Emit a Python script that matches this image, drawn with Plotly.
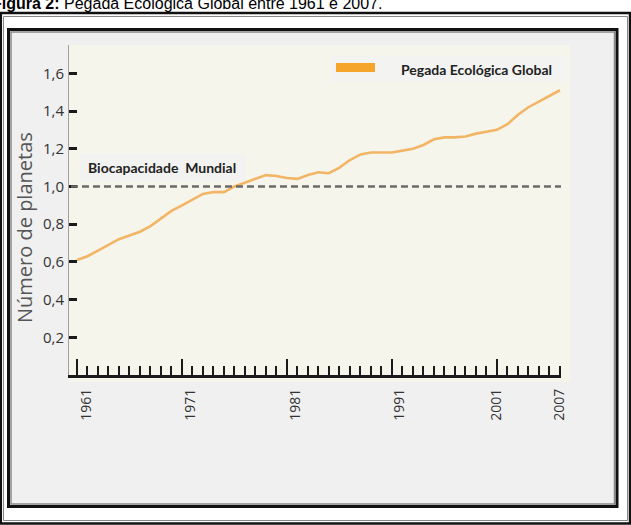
import plotly.graph_objects as go

# ---------------- data ----------------
years = list(range(1961, 2008))
footprint = [0.61, 0.63, 0.66, 0.69, 0.72, 0.74, 0.76, 0.79, 0.83, 0.87,
             0.90, 0.93, 0.96, 0.97, 0.97, 1.00, 1.02, 1.04, 1.06, 1.055,
             1.045, 1.04, 1.06, 1.075, 1.07, 1.10, 1.14, 1.17, 1.18, 1.18,
             1.18, 1.19, 1.20, 1.22, 1.25, 1.26, 1.26, 1.265, 1.28, 1.29,
             1.30, 1.33, 1.38, 1.42, 1.45, 1.48, 1.51]
biocapacity = 1.0
major_years = [1961, 1971, 1981, 1991, 2001]
label_years = [1961, 1971, 1981, 1991, 2001, 2007]
y_ticks = [0.2, 0.4, 0.6, 0.8, 1.0, 1.2, 1.4, 1.6]
y_ticktext = ["0,2", "0,4", "0,6", "0,8", "1,0", "1,2", "1,4", "1,6"]

# ---------------- layout geometry (pixels) ----------------
W, H = 631, 525
L, R, T, B = 69, 561, 45, 375
label_shift = [0.9, 0.8, 0.85, 0.7, 0.0, 0.0]  # label offsets (years) as in the original


def pxx(x):
    return (x - L) / (R - L)


def pxy(y):
    return (B - y) / (B - T)


def rect(x0, y0, x1, y1, **kw):
    d = dict(type="rect", xref="paper", yref="paper",
             x0=pxx(x0), x1=pxx(x1), y0=pxy(y1), y1=pxy(y0), layer="below")
    d.update(kw)
    return d


fig = go.Figure()
fig.add_trace(go.Scatter(x=years, y=footprint, mode="lines",
                         line=dict(color="#F2B565", width=2.6),
                         hoverinfo="skip", showlegend=False))
# invisible trace to host label axis
fig.add_trace(go.Scatter(x=[years[0]], y=[footprint[0]], xaxis="x2",
                         mode="markers", marker=dict(opacity=0),
                         hoverinfo="skip", showlegend=False))

shapes = [
    # outer double frame
    dict(type="rect", xref="paper", yref="paper", x0=pxx(0.8), x1=pxx(630), y0=pxy(523.5), y1=pxy(13),
         line=dict(color="#111", width=2.5), fillcolor="white", layer="below"),
    dict(type="rect", xref="paper", yref="paper", x0=pxx(3.5), x1=pxx(627.5), y0=pxy(520.5), y1=pxy(16.5),
         line=dict(color="#888", width=1), layer="below"),
    # inner panel
    rect(8.5, 29.5, 617, 506.5, line=dict(color="#111", width=3), fillcolor="#f0f0f0"),
    rect(11, 32, 614.5, 504, line=dict(color="#8a8a8a", width=1.5)),
    # cream plotting area
    rect(69, 45, 570, 382, line=dict(width=0), fillcolor="#f6f5ec"),
    # legend & label boxes
    rect(330, 56, 567, 82, line=dict(width=0), fillcolor="#f3f3f1"),
    rect(336, 63, 375, 72, line=dict(width=0), fillcolor="#F5A52C"),
    rect(80, 154, 246, 181, line=dict(width=0), fillcolor="#f2f2f0"),
    # biocapacity reference line
    dict(type="line", xref="x domain", yref="y", x0=0.004, x1=1.0, y0=biocapacity, y1=biocapacity,
         line=dict(color="#6a6a6a", width=2.5, dash="7px,4px"), layer="above"),
]

annotations = [
    dict(text="<b>Figura 2:</b> Pegada Ecológica Global entre 1961 e 2007.",
         xref="paper", yref="paper", x=pxx(-10.5), y=pxy(3), xanchor="left", yanchor="middle",
         showarrow=False, font=dict(family="Liberation Sans, Arial", size=16, color="#000")),
    dict(text="Pegada Ecológica Global", xref="paper", yref="paper", x=pxx(399), y=pxy(69),
         xanchor="left", yanchor="middle", showarrow=False,
         font=dict(family="Lato", size=14, color="#222", weight="bold")),
    dict(text="Biocapacidade  Mundial", xref="paper", yref="paper", x=pxx(86), y=pxy(167.5),
         xanchor="left", yanchor="middle", showarrow=False,
         font=dict(family="Lato", size=14, color="#222", weight="bold")),
    dict(text="Número de planetas", xref="paper", yref="paper", x=pxx(24), y=pxy(228),
         xanchor="center", yanchor="middle", textangle=-90, showarrow=False,
         font=dict(family="Open Sans", size=20, color="#555")),
]

fig.update_layout(
    width=W, height=H,
    margin=dict(l=L, r=W - R, t=T, b=H - B, pad=0),
    paper_bgcolor="white", plot_bgcolor="rgba(0,0,0,0)",
    shapes=shapes, annotations=annotations,
    showlegend=False,
    xaxis=dict(range=[1960.24, 2007.1], showgrid=False, zeroline=False,
               showline=True, linecolor="#1a1a1a", linewidth=3,
               tickmode="array", tickvals=major_years, ticks="inside",
               ticklen=16, tickwidth=2, tickcolor="#1a1a1a", showticklabels=False,
               minor=dict(tickmode="linear", tick0=1961, dtick=1, ticks="inside",
                          ticklen=9, tickwidth=2, tickcolor="#1a1a1a", showgrid=False)),
    xaxis2=dict(overlaying="x", anchor="y", side="bottom", range=[1960.24, 2007.1],
                showgrid=False, zeroline=False, showline=False, ticks="",
                tickmode="array",
                tickvals=[yv + s for yv, s in zip(label_years, label_shift)],
                ticktext=[str(v) for v in label_years], tickangle=-90,
                ticklabelstandoff=10,
                tickfont=dict(family="Open Sans", size=14, color="#333")),
    yaxis=dict(range=[0, 1.75], showgrid=False, zeroline=False,
               showline=True, linecolor="#a0a0a0", linewidth=1,
               tickmode="array", tickvals=y_ticks, ticktext=y_ticktext,
               ticks="inside", ticklen=8, tickwidth=3, tickcolor="#1a1a1a",
               ticklabelstandoff=1,
               tickfont=dict(family="Open Sans", size=15, color="#333")),
)

fig.write_html("out.html")
